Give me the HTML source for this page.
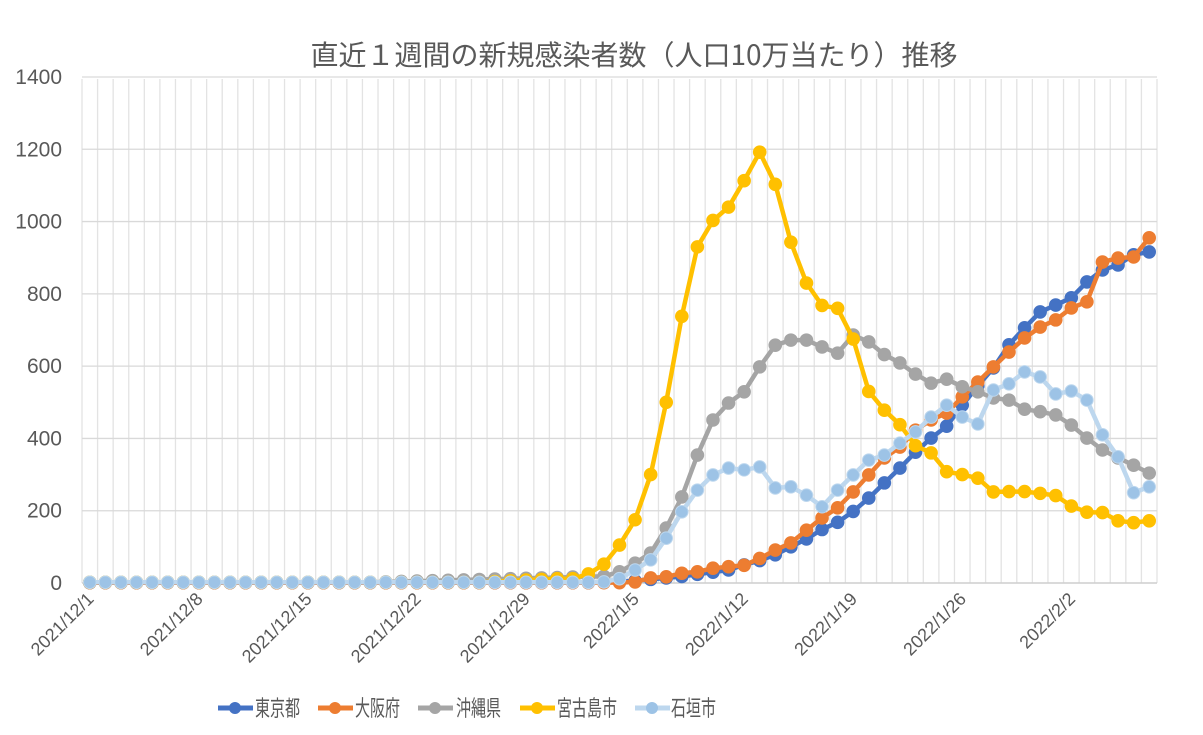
<!DOCTYPE html>
<html><head><meta charset="utf-8"><style>
html,body{margin:0;padding:0;background:#fff;}
svg{display:block;font-family:"Liberation Sans","Noto Sans CJK JP",sans-serif;}
</style></head><body>
<svg id="c" width="1203" height="735" viewBox="0 0 1203 735" xmlns="http://www.w3.org/2000/svg">
<rect width="1203" height="735" fill="#fff"/>
<text x="634" y="65" text-anchor="middle" font-size="28" fill="#595959" font-family="'Noto Sans CJK JP','Liberation Sans',sans-serif">直近１週間の新規感染者数（人口10万当たり）推移</text>
<g id="grid"></g>
<g id="series"></g>
<g id="labels"></g>
<g font-size="22" fill="#595959" font-family="'Noto Sans CJK JP',sans-serif">
<line x1="218" y1="708" x2="253" y2="708" stroke="#4472C4" stroke-width="5"/><circle cx="235" cy="708" r="6" fill="#4472C4"/><text x="255" y="716" textLength="45" lengthAdjust="spacingAndGlyphs">東京都</text>
<line x1="318" y1="708" x2="353" y2="708" stroke="#ED7D31" stroke-width="5"/><circle cx="335" cy="708" r="6" fill="#ED7D31"/><text x="355" y="716" textLength="45" lengthAdjust="spacingAndGlyphs">大阪府</text>
<line x1="418" y1="708" x2="453" y2="708" stroke="#A5A5A5" stroke-width="5"/><circle cx="435" cy="708" r="6" fill="#A5A5A5"/><text x="456" y="716" textLength="45" lengthAdjust="spacingAndGlyphs">沖縄県</text>
<line x1="520" y1="708" x2="555" y2="708" stroke="#FFC000" stroke-width="5"/><circle cx="537" cy="708" r="6" fill="#FFC000"/><text x="557" y="716" textLength="60" lengthAdjust="spacingAndGlyphs">宮古島市</text>
<line x1="635" y1="708" x2="670" y2="708" stroke="#BDD7EE" stroke-width="5"/><circle cx="652" cy="708" r="6" fill="#9DC3E6"/><text x="671" y="716" textLength="45" lengthAdjust="spacingAndGlyphs">石垣市</text>
</g>
</svg>
<script>
(function(){
var NS="http://www.w3.org/2000/svg";
function el(p,n,a,t){var e=document.createElementNS(NS,n);for(var k in a)e.setAttribute(k,a[k]);if(t!=null)e.textContent=t;p.appendChild(e);return e;}
var L=82,R=1157,N=69,sp=(R-L)/N;
function X(i){return L+sp*(i+0.5);}
function Y(v){return 583-v*(506/1400);}
var g=document.getElementById('grid');
for(var i=0;i<=N;i++){var x=L+sp*i;el(g,'line',{x1:x,y1:79,x2:x,y2:583,stroke:'#e3e3e3','stroke-width':1.3});}
for(var k=0;k<=7;k++){var y=Y(k*200);el(g,'line',{x1:L,y1:y,x2:R,y2:y,stroke:'#d9d9d9','stroke-width':1.3});
 el(g,'text',{x:62,y:y+7,'text-anchor':'end','font-size':21,fill:'#595959'},String(k*200));}
el(g,'line',{x1:L,y1:583,x2:R,y2:583,stroke:'#d0d0d0','stroke-width':1.5});
var lb=document.getElementById('labels');
var dates=['2021/12/1','2021/12/8','2021/12/15','2021/12/22','2021/12/29','2022/1/5','2022/1/12','2022/1/19','2022/1/26','2022/2/2'];
for(var d=0;d<dates.length;d++){var x=X(d*7)+5,y=600;
 el(lb,'text',{x:x,y:y,'text-anchor':'end','font-size':18,fill:'#595959',transform:'rotate(-45 '+x+' '+y+')'},dates[d]);}
function fill(arr,start,pre){var a=[];for(var i=0;i<N;i++){a.push(i<start?(pre?pre(i):0):arr[i-start]);}return a;}
var blue=fill([2,4,6,10,14,18,24,30,36,50,62,78,100,122,148,168,198,235,277,318,362,401,434,492,545,595,659,706,750,769,789,833,866,880,908,916],33,function(i){return 1;});
var orange=fill([3,14,17,27,31,41,45,49,68,91,111,146,180,208,252,299,346,376,423,451,470,515,556,598,639,678,708,728,761,778,888,899,902,955],35,function(i){return 1;});
var gray=fill([31,55,83,152,238,354,451,498,529,598,658,672,672,653,636,686,667,632,609,578,553,564,543,529,512,506,481,474,465,437,401,368,346,326,304],34,function(i){return i<18?2:2+(i-18)*1.1;});
var yellow=fill([52,105,175,300,500,738,930,1003,1040,1113,1192,1103,943,830,768,760,675,530,478,438,380,360,308,300,290,252,253,253,248,242,213,196,195,172,167,172],33,function(i){return i<26?2:(i<31?4+(i-26)*2:(i==31?12:25));});
var lblue=fill([3,12,36,64,124,197,257,299,318,313,321,263,266,243,211,257,299,340,354,387,418,459,492,459,440,534,551,584,570,523,531,506,410,349,250,266],33,function(i){return 2;});
var S=document.getElementById('series');
function draw(a,lc,mc){var p='';for(var i=0;i<N;i++)p+=(i?'L':'M')+X(i).toFixed(1)+' '+Y(a[i]).toFixed(1);
 el(S,'path',{d:p,fill:'none',stroke:lc,'stroke-width':4.5,'stroke-linejoin':'round'});
 for(var i=0;i<N;i++)el(S,'circle',{cx:X(i),cy:Y(a[i]),r:6.3,fill:mc,stroke:lc,'stroke-width':1});}
draw(blue,'#4472C4','#4472C4');
draw(orange,'#ED7D31','#ED7D31');
draw(gray,'#A5A5A5','#A5A5A5');
draw(yellow,'#FFC000','#FFC000');
draw(lblue,'#BDD7EE','#9DC3E6');
})();
</script>
</body></html>
